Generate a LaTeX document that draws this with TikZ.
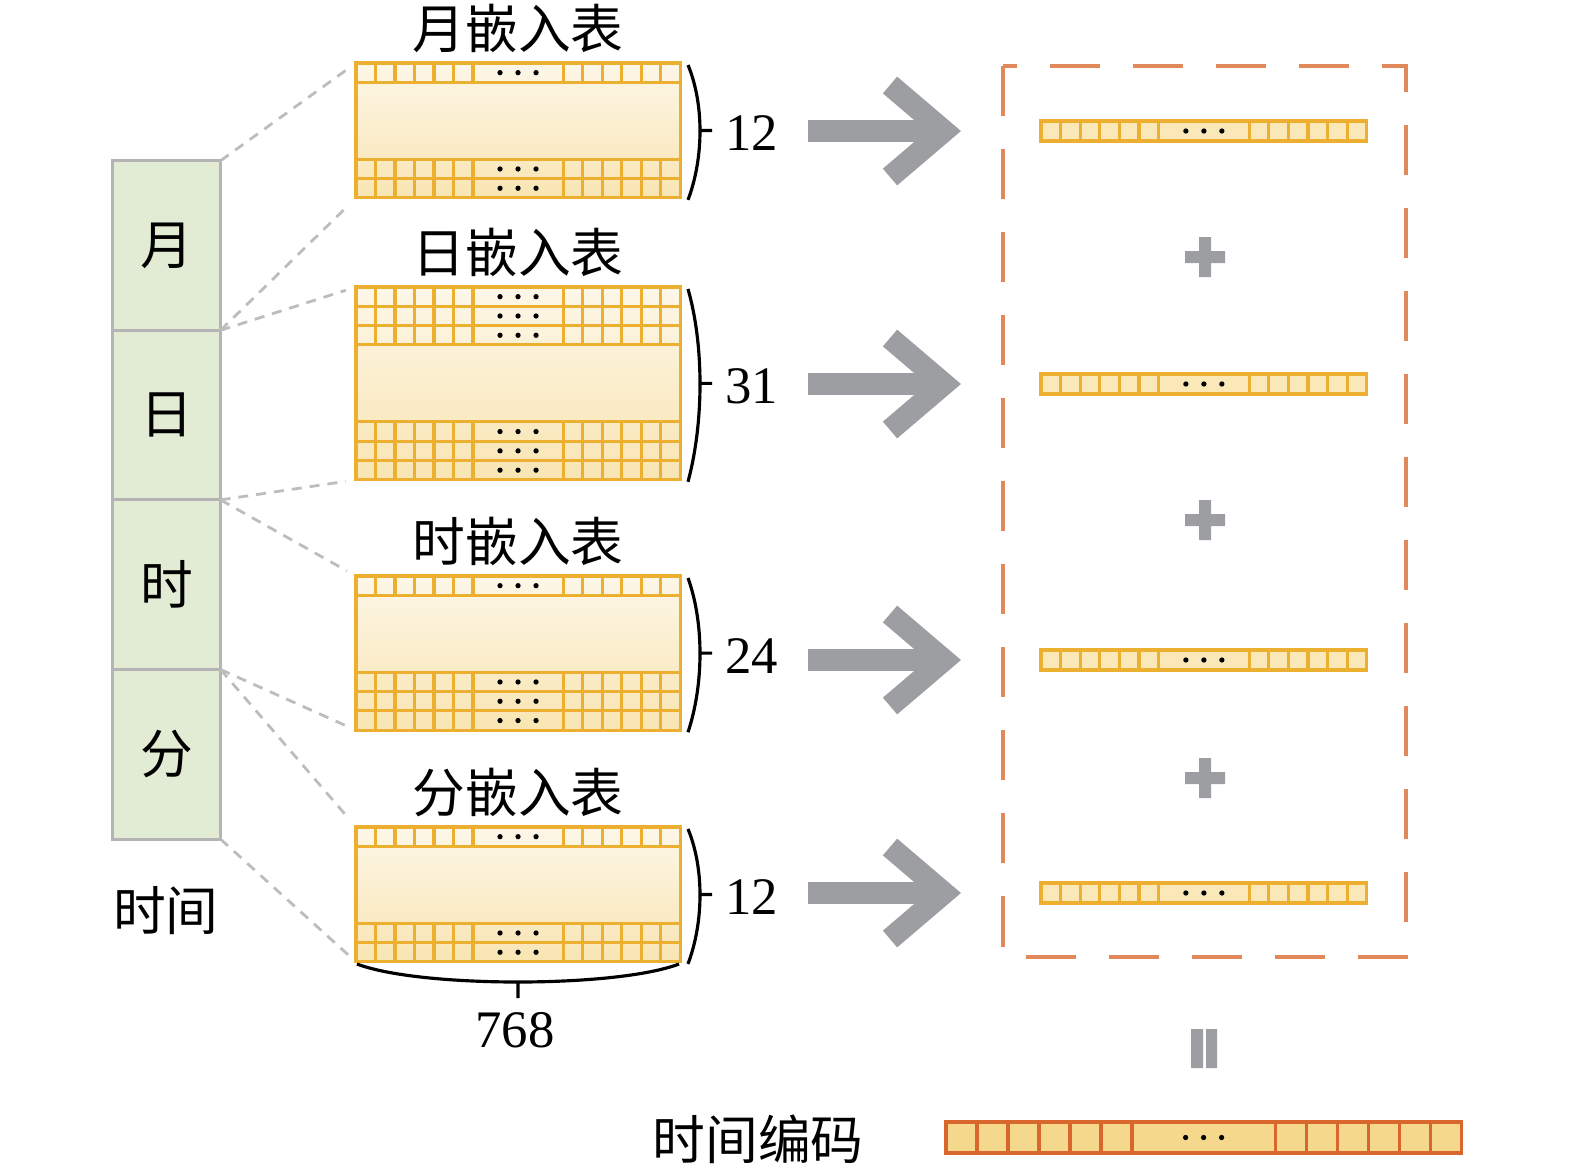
\documentclass[tikz,border=0pt]{standalone}
\usepackage{fontspec}
\setmainfont{Liberation Serif}
\newfontfamily\cjk{Noto Sans CJK SC}
\usetikzlibrary{positioning,shadings}
\definecolor{tabline}{HTML}{EDAF30}
\definecolor{tabtop}{HTML}{FDF7E8}
\definecolor{tabbot}{HTML}{F9E5B3}
\definecolor{vecfill}{HTML}{FAE8B9}
\definecolor{outfill}{HTML}{F5D88B}
\definecolor{outline}{HTML}{D9662C}
\definecolor{boxgreen}{HTML}{E2ECD4}
\definecolor{boxgray}{HTML}{B4B4B4}
\definecolor{arrowgray}{HTML}{9D9EA1}
\definecolor{sumorange}{HTML}{E0895B}
\definecolor{feedgray}{HTML}{BDBDBD}

\tikzset{
  every node/.style={font=\fontsize{15pt}{18pt}\selectfont},
  cjk/.style={font=\fontsize{15pt}{18pt}\selectfont\cjk},
  tbox/.style={cjk,draw=boxgray,fill=boxgreen,line width=0.9pt,inner sep=0pt,outer sep=0pt,
    minimum width=1.08cm,minimum height=1.695cm},
  embtab/.style={draw=tabline,line width=0.9pt,top color=tabtop,bottom color=tabbot,
    anchor=north west,inner sep=0pt,outer sep=0pt,minimum width=3.24cm},
  tabgrid/.style={draw=tabline,line width=0.9pt},
  vecbar/.style={draw=tabline,fill=vecfill,line width=0.9pt},
  outbar/.style={draw=outline,fill=outfill,line width=0.9pt},
  sizebrace/.style={draw=black,line width=0.9pt},
  feed/.style={draw=feedgray,line width=0.8pt,dash pattern=on 0.1cm off 0.08cm,shorten >=3pt},
  bigarrow/.style={draw=arrowgray,line width=0.22cm,line join=miter},
  sumbox/.style={draw=sumorange,line width=0.95pt,dash pattern=on 0.5cm off 0.33cm}
}

% one row of cells: [style]{x}{y}{cell width}{height}
\newcommand\embrow[5][]{%
  \draw[#1] ({#2},{#3}) rectangle ++({16.62*#4},{#5});
  \foreach \k in {1,2,3,4,5,6,10.62,11.62,12.62,13.62,14.62,15.62}
    \draw[#1] ({#2+\k*#4},{#3}) -- ++(0,{#5});
  \foreach \j in {-1,0,1}
    \fill ({#2+8.31*#4+\j*18},{#3+#5/2}) circle (0.75pt);
}

% embedding table: {name}{top}{rows above}{rows below}{title}{size}
\newcommand\embtable[6]{%
  \pgfmathsetmacro\tbot{#2+(#3+#4)*19.3+77}
  \pgfmathsetmacro\tmid{(#2+\tbot)/2}
  \node[embtab,minimum height={(\tbot-#2)*0.01cm}] (#1) at (356,#2) {};
  \foreach \r in {1,...,#3} \embrow[tabgrid]{356}{#2+(\r-1)*19.3}{19.5}{19.3};
  \foreach \r in {1,...,#4} \embrow[tabgrid]{356}{\tbot-\r*19.3}{19.5}{19.3};
  \node[cjk] (#1-t) at (518,#2-35) {#5};
  \draw[sizebrace] (688,{#2+2}) .. controls (704,{#2+0.3*(\tbot-#2)}) and (704,{\tbot-0.3*(\tbot-#2)}) .. (688,{\tbot+2})
    (700,\tmid) -- (712,\tmid);
  \node[anchor=west,inner sep=0pt,xshift=3.5pt] (#1-n) at (712,\tmid+3) {#6};
}

\begin{document}
\begin{tikzpicture}[x=0.01cm,y=-0.01cm]
  \useasboundingbox (0,0) rectangle (1575,1175);
  % time fields
  \node[tbox] (mon) at (166.5,245.5) {月};
  \node[tbox,below=0pt of mon] (day) {日};
  \node[tbox,below=0pt of day] (hour) {时};
  \node[tbox,below=0pt of hour] (minu) {分};
  \node[cjk] (time) at (166,911) {时间};

  % embedding tables
  \embtable{t1}{63}{1}{2}{月嵌入表}{12}
  \embtable{t2}{287}{3}{3}{日嵌入表}{31}
  \embtable{t3}{576}{1}{3}{时嵌入表}{24}
  \embtable{t4}{827}{1}{2}{分嵌入表}{12}
  \draw[sizebrace] (357,964) .. controls (420,988) and (616,988) .. (679,964) (518,982) -- (518,998);
  \node (dim) at (515,1030) {768};

  % lookups
  \draw[feed] (mon.north east) -- (t1.north west);
  \draw[feed] (mon.south east) -- (t1.south west);
  \draw[feed] (mon.south east) -- (t2.north west);
  \draw[feed] (day.south east) -- (t2.south west);
  \draw[feed] (day.south east) -- (t3.north west);
  \draw[feed] (hour.south east) -- (t3.south west);
  \draw[feed] (hour.south east) -- (t4.north west);
  \draw[feed] (minu.south east) -- (t4.south west);

  % looked-up vectors and their sum
  \foreach \y in {131,384,660,893} {
    \draw[bigarrow] (808,\y) -- (935,\y);
    \draw[bigarrow] (890,\y-46) -- (944,\y) -- (890,\y+46);
    \embrow[vecbar]{1041}{\y-10}{19.6}{20}
  }
  \draw[sumbox] (1003,66) rectangle (1406,957);
  \foreach \y in {257,520,778}
    \fill[arrowgray] (1185,\y-6) rectangle (1225,\y+6) (1199,\y-20) rectangle (1211,\y+20);
  \fill[arrowgray] (1191,1029) rectangle (1203,1068) (1206,1029) rectangle (1217,1068);

  % output
  \embrow[outbar]{946}{1122}{31}{31}
  \node[cjk] (code) at (758,1139) {时间编码};
\end{tikzpicture}
\end{document}
